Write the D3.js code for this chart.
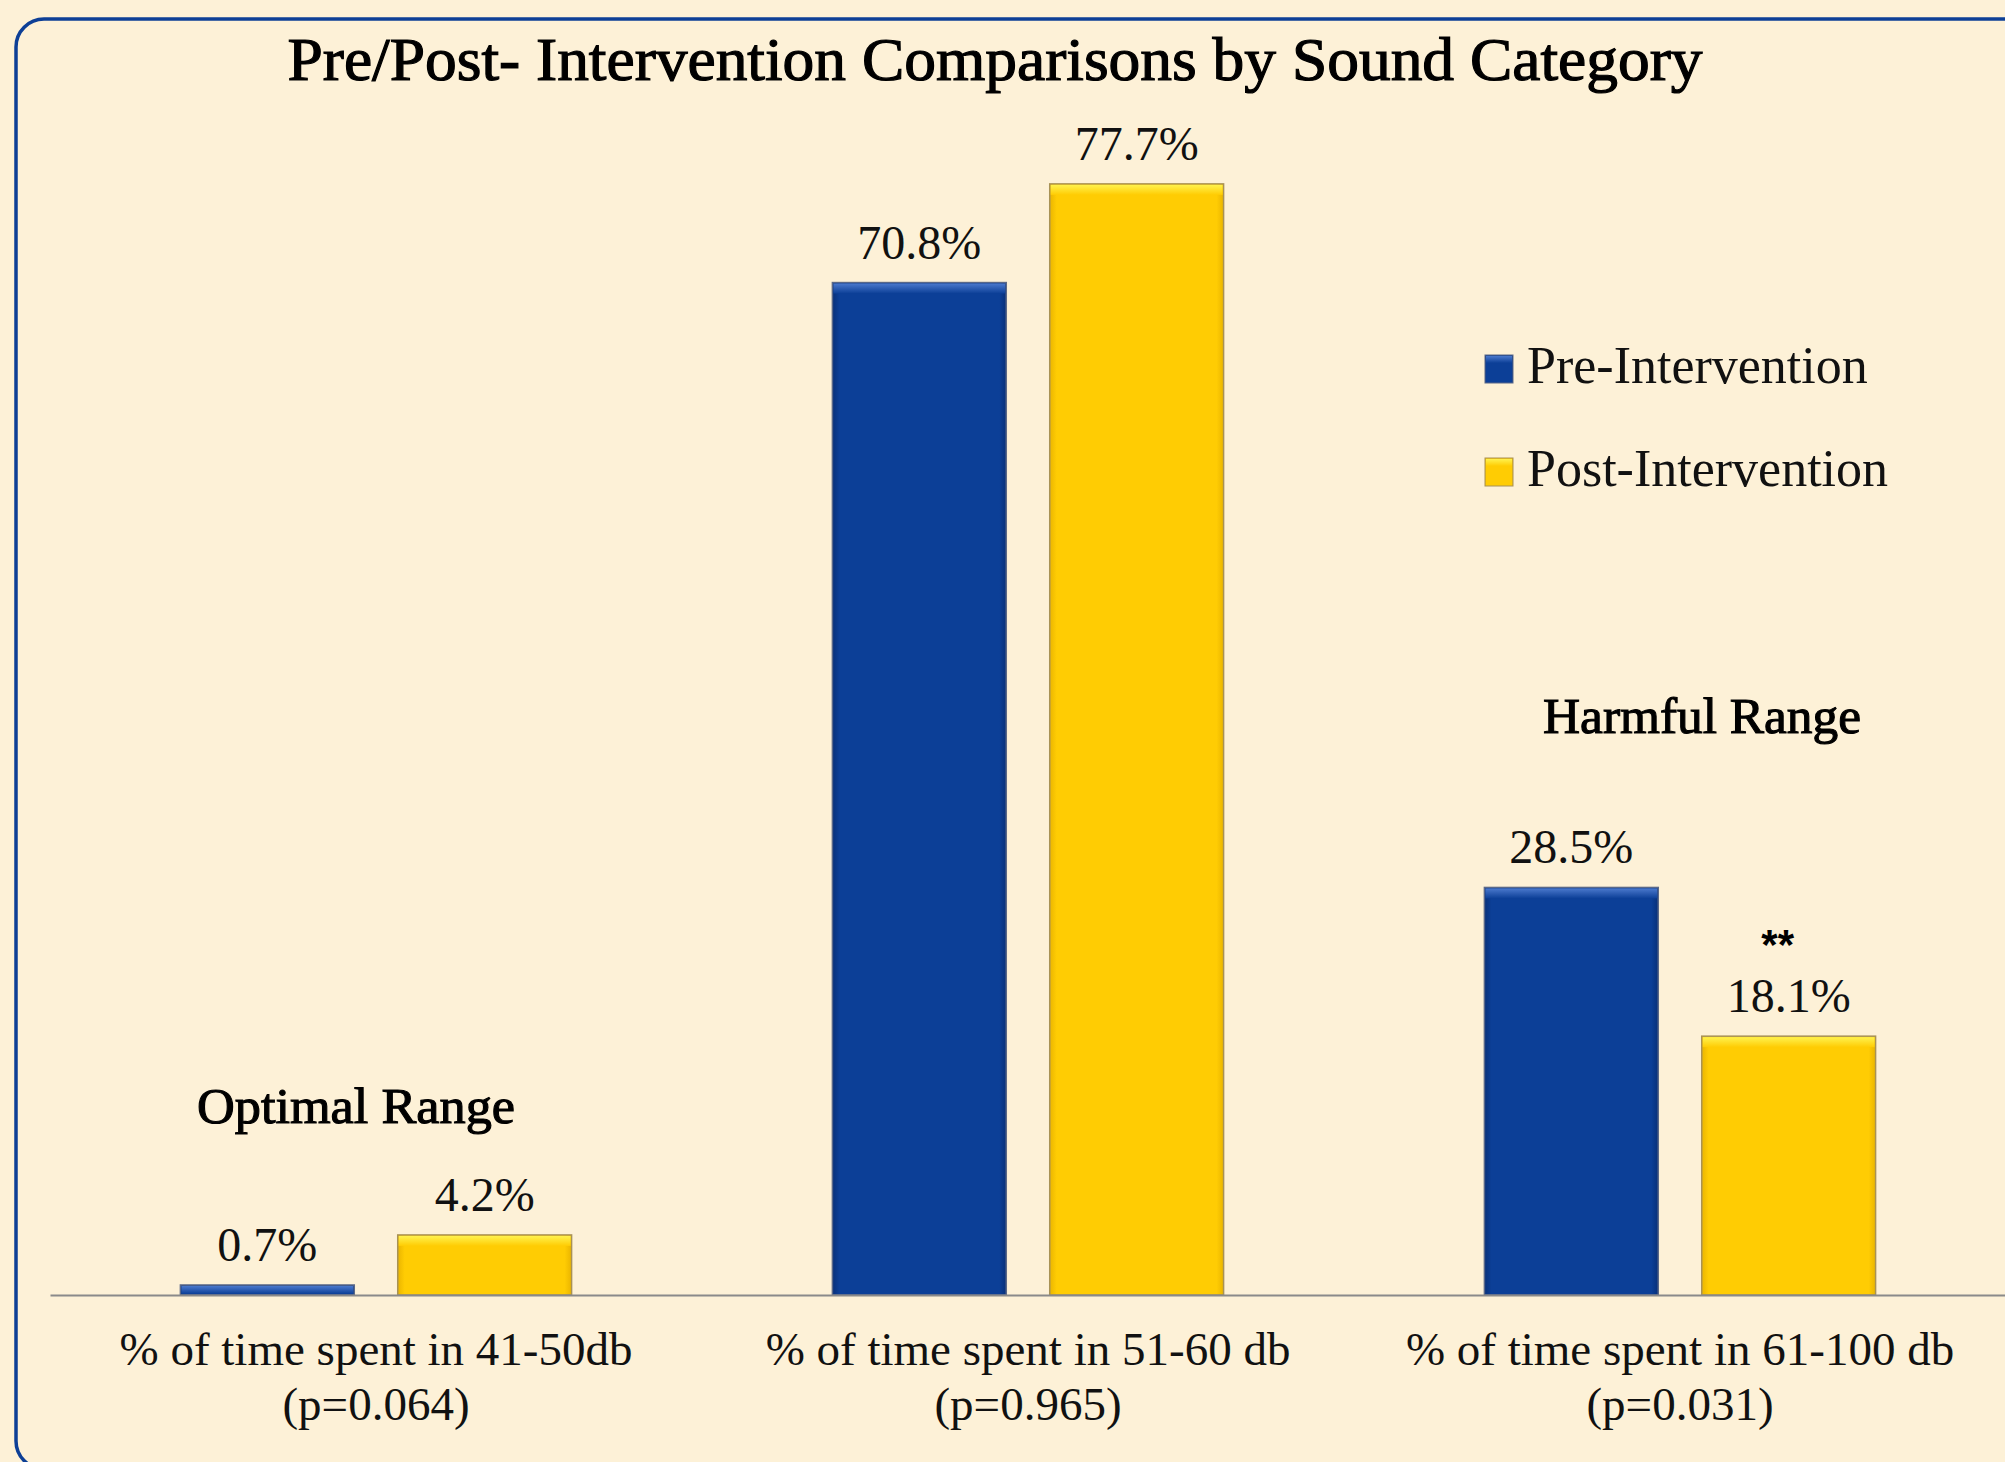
<!DOCTYPE html>
<html>
<head>
<meta charset="utf-8">
<script src="https://cdn.jsdelivr.net/npm/d3@7"></script>
<style>
  body { margin: 0; background: #fdf1d7; }
  svg { display: block; }
</style>
</head>
<body>
<svg id="chart"></svg>
<script>
var categories = ["% of time spent in 41-50db", "% of time spent in 51-60 db", "% of time spent in 61-100 db"];
var pvalues = ["(p=0.064)", "(p=0.965)", "(p=0.031)"];
var series = ["Pre-Intervention", "Post-Intervention"];
var preValues = [0.7, 70.8, 28.5];
var postValues = [4.2, 77.7, 18.1];
var rangeNotes = [{ text: "Optimal Range", cat: 0, level: 12.0 }, { text: "Harmful Range", cat: 2, level: 39.3 }];
var title = "Pre/Post- Intervention Comparisons by Sound Category";

var width = 2005, height = 1462;
var colors = {
  "Pre-Intervention": { main: "#0c3f97", edge: "#083079", top: "#4a78cc", stroke: "#5a6888" },
  "Post-Intervention": { main: "#ffcc03", edge: "#eab500", top: "#fff24e", stroke: "#a89256" }
};

var svg = d3.select("#chart").attr("width", width).attr("height", height);

svg.append("rect").attr("width", width).attr("height", height).attr("fill", "#fdf1d7");

// frame
svg.append("rect")
   .attr("x", 16).attr("y", 19)
   .attr("width", 2100).attr("height", 1450)
   .attr("rx", 28)
   .attr("fill", "none")
   .attr("stroke", "#0d3f96")
   .attr("stroke-width", 3.5);

// gradients for the bevel look
var defs = svg.append("defs");
series.forEach(function(s, i) {
  var c = colors[s];
  var g = defs.append("linearGradient").attr("id", "side" + i).attr("x1", 0).attr("x2", 1).attr("y1", 0).attr("y2", 0);
  g.append("stop").attr("offset", "0%").attr("stop-color", c.edge);
  g.append("stop").attr("offset", "4%").attr("stop-color", c.main);
  g.append("stop").attr("offset", "96%").attr("stop-color", c.main);
  g.append("stop").attr("offset", "100%").attr("stop-color", c.edge);
  var t = defs.append("linearGradient").attr("id", "top" + i).attr("x1", 0).attr("x2", 0).attr("y1", 0).attr("y2", 1);
  t.append("stop").attr("offset", "0%").attr("stop-color", c.top);
  t.append("stop").attr("offset", "100%").attr("stop-color", c.main);
});

var x0 = d3.scaleBand().domain(categories).range([50, 2006]).padding(0);
var x1 = d3.scaleBand().domain(series).range([0, x0.bandwidth()]).paddingInner(0.2).paddingOuter(0.6);
var y = d3.scaleLinear().domain([0, 80]).range([1295, 151]);

var rows = categories.map(function(c, i) {
  return { cat: c, vals: [{ s: series[0], v: preValues[i], k: 0 }, { s: series[1], v: postValues[i], k: 1 }] };
});

// title
svg.append("text")
   .attr("x", 995).attr("y", 80)
   .attr("text-anchor", "middle")
   .attr("font-family", "'Liberation Serif', serif")
   .attr("font-size", 62)
   .attr("stroke", "#000")
   .attr("stroke-width", 1.2)
   .attr("textLength", 1415)
   .attr("lengthAdjust", "spacingAndGlyphs")
   .text(title);

var groups = svg.selectAll(".grp")
  .data(rows).enter().append("g")
  .attr("class", "grp")
  .attr("transform", function(d) { return "translate(" + x0(d.cat) + ",0)"; });

var bars = groups.selectAll(".bar")
  .data(function(d) { return d.vals; }).enter().append("g").attr("class", "bar");

bars.append("rect")
    .attr("x", function(d) { return x1(d.s); })
    .attr("y", function(d) { return y(d.v); })
    .attr("width", x1.bandwidth())
    .attr("height", function(d) { return y(0) - y(d.v); })
    .attr("fill", function(d) { return "url(#side" + d.k + ")"; })
    .attr("stroke", function(d) { return colors[d.s].stroke; })
    .attr("stroke-width", 1.5);

bars.append("rect")
    .attr("x", function(d) { return x1(d.s) + 1; })
    .attr("y", function(d) { return y(d.v) + 1; })
    .attr("width", x1.bandwidth() - 2)
    .attr("height", function(d) { return Math.min(10, y(0) - y(d.v) - 2); })
    .attr("fill", function(d) { return "url(#top" + d.k + ")"; });

bars.append("text")
    .attr("x", function(d) { return x1(d.s) + x1.bandwidth() / 2; })
    .attr("y", function(d) { return y(d.v) - 24; })
    .attr("text-anchor", "middle")
    .attr("font-family", "'Liberation Serif', serif")
    .attr("font-size", 48)
    .attr("fill", "#111")
    .text(function(d) { return d.v.toFixed(1) + "%"; });

// significance marker on the 61-100 db post bar
svg.append("text")
   .attr("x", x0(categories[2]) + x1(series[1]) + x1.bandwidth() / 2 - 11)
   .attr("y", y(postValues[2]) - 77)
   .attr("text-anchor", "middle")
   .attr("font-family", "'Liberation Sans', sans-serif")
   .attr("font-weight", "bold")
   .attr("font-size", 42)
   .text("**");

// axis
var axis = svg.append("g")
  .attr("transform", "translate(0," + y(0) + ")")
  .call(d3.axisBottom(x0).tickSize(0).tickFormat(""));
axis.select(".domain").attr("stroke", "#8a8a8a").attr("stroke-width", 2);

var ticks = axis.selectAll(".tick text")
  .attr("font-family", "'Liberation Serif', serif")
  .attr("font-size", 47)
  .attr("fill", "#111")
  .attr("y", 0).attr("dy", null);
ticks.each(function(d, i) {
  var t = d3.select(this);
  t.append("tspan").attr("x", 0).attr("y", 70).text(categories[i]);
  t.append("tspan").attr("x", 0).attr("y", 125).text(pvalues[i]);
});

// range annotations
svg.selectAll(".note")
   .data(rangeNotes).enter().append("text")
   .attr("class", "note")
   .attr("x", function(d) { return x0(categories[d.cat]) + x0.bandwidth() / 2 + (d.cat === 0 ? -20 : 22); })
   .attr("y", function(d) { return y(d.level); })
   .attr("text-anchor", "middle")
   .attr("font-family", "'Liberation Serif', serif")
   .attr("font-size", 50)
   .attr("stroke", "#000")
   .attr("stroke-width", 1.1)
   .attr("textLength", 318)
   .attr("lengthAdjust", "spacingAndGlyphs")
   .text(function(d) { return d.text; });

// legend
var legend = svg.selectAll(".legend")
  .data(series).enter().append("g")
  .attr("class", "legend")
  .attr("transform", function(d, i) { return "translate(1485," + (355 + i * 103) + ")"; });

legend.append("rect")
      .attr("width", 28).attr("height", 28)
      .attr("fill", function(d, i) { return "url(#side" + i + ")"; })
      .attr("stroke", function(d) { return colors[d].stroke; })
      .attr("stroke-width", 1);
legend.append("rect")
      .attr("x", 1).attr("y", 1)
      .attr("width", 26).attr("height", 7)
      .attr("fill", function(d, i) { return "url(#top" + i + ")"; });
legend.append("text")
      .attr("x", 42).attr("y", 28)
      .attr("font-family", "'Liberation Serif', serif")
      .attr("font-size", 52)
      .attr("fill", "#111")
      .text(function(d) { return d; });
</script>
</body>
</html>
